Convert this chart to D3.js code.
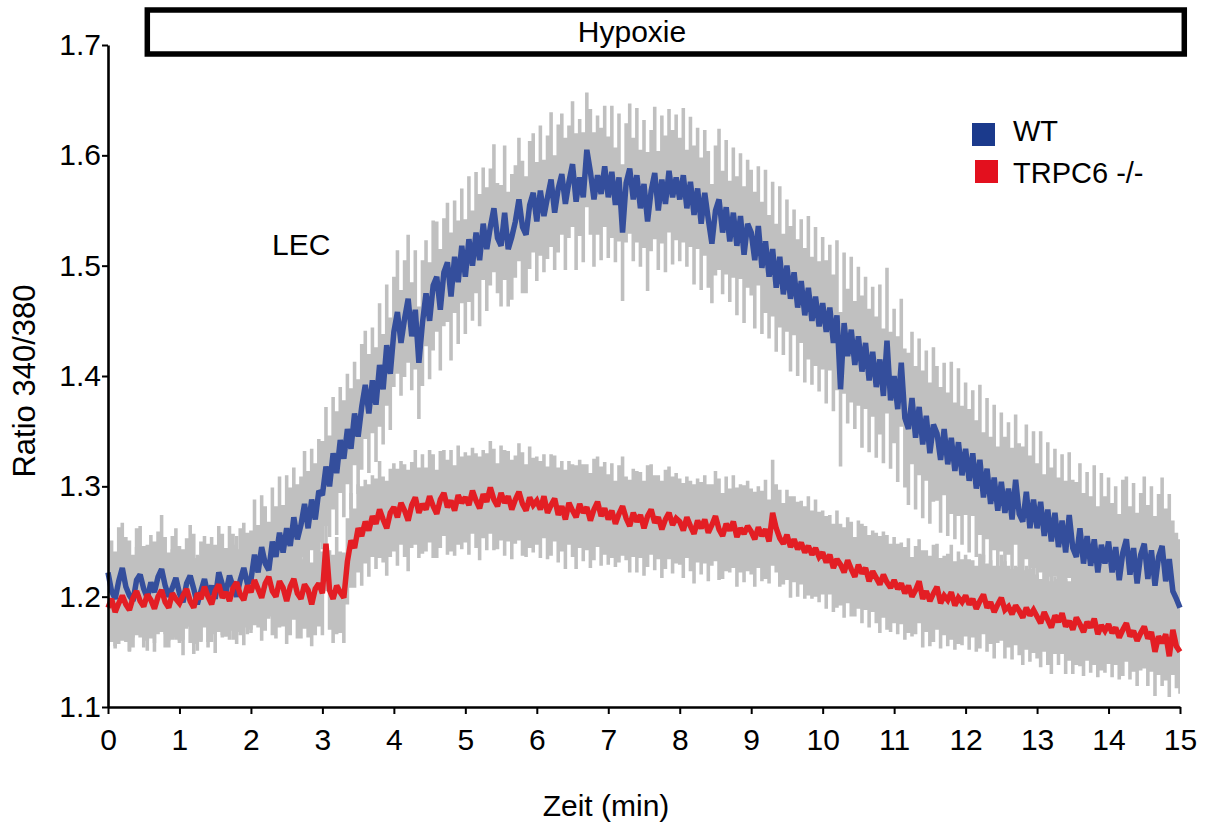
<!DOCTYPE html>
<html>
<head>
<meta charset="utf-8">
<script src="https://cdn.jsdelivr.net/npm/d3@7"></script>
<style>
  body { margin: 0; background: #fff; }
  svg { display: block; }
  text { font-family: "Liberation Sans", Arial, sans-serif; fill: #000; }
</style>
</head>
<body>
<svg id="chart" width="1207" height="830"></svg>
<script>
// ---------------- data ----------------
const xTicks = [0, 1, 2, 3, 4, 5, 6, 7, 8, 9, 10, 11, 12, 13, 14, 15];
const yTicks = [1.1, 1.2, 1.3, 1.4, 1.5, 1.6, 1.7];
const xLabel = "Zeit (min)";
const yLabel = "Ratio 340/380";
const panelLabel = "LEC";
const hypoxiaLabel = "Hypoxie";
const hypoxiaPeriod = [0.55, 15.06];   // min
const seriesNames = ["WT", "TRPC6 -/-"];
const sampleStep = 0.05;               // min between samples

// WT mean ratio, one value every 0.05 min (0 .. 15 min)
const wtMean = [
  1.222,1.205,1.198,1.214,1.226,1.209,1.201,1.196,1.215,1.220,1.207,1.199,1.213,1.204,1.218,1.225,1.210,1.200,1.208,1.217,
  1.203,1.195,1.212,1.219,1.207,1.193,1.205,1.216,1.201,1.210,1.198,1.222,1.211,1.204,1.219,1.209,1.200,1.215,1.226,1.212,
  1.215,1.238,1.222,1.245,1.230,1.224,1.250,1.236,1.258,1.240,1.262,1.246,1.272,1.252,1.265,1.284,1.262,1.288,1.270,1.296,
  1.292,1.318,1.300,1.330,1.312,1.342,1.325,1.352,1.334,1.366,1.345,1.372,1.392,1.366,1.396,1.374,1.410,1.388,1.428,1.402,
  1.440,1.458,1.430,1.452,1.470,1.436,1.460,1.412,1.448,1.475,1.450,1.482,1.490,1.460,1.494,1.503,1.472,1.508,1.485,1.518,
  1.490,1.524,1.500,1.530,1.505,1.538,1.515,1.535,1.552,1.525,1.518,1.548,1.515,1.526,1.540,1.560,1.535,1.528,1.555,1.566,
  1.540,1.568,1.545,1.562,1.578,1.548,1.570,1.583,1.556,1.576,1.592,1.558,1.580,1.562,1.605,1.585,1.560,1.582,1.565,1.590,
  1.562,1.585,1.555,1.580,1.530,1.575,1.588,1.560,1.582,1.552,1.574,1.540,1.568,1.584,1.550,1.578,1.556,1.586,1.562,1.580,
  1.560,1.582,1.552,1.576,1.546,1.570,1.538,1.566,1.542,1.520,1.550,1.560,1.530,1.553,1.522,1.548,1.518,1.545,1.510,1.538,
  1.530,1.505,1.536,1.498,1.522,1.490,1.515,1.480,1.508,1.474,1.500,1.470,1.494,1.462,1.486,1.455,1.480,1.450,1.472,1.445,
  1.466,1.440,1.462,1.430,1.455,1.388,1.448,1.418,1.442,1.410,1.436,1.404,1.430,1.396,1.422,1.390,1.415,1.382,1.432,1.378,
  1.400,1.370,1.412,1.362,1.352,1.380,1.344,1.372,1.338,1.364,1.330,1.356,1.348,1.324,1.352,1.320,1.344,1.314,1.340,1.310,
  1.334,1.305,1.330,1.298,1.324,1.290,1.316,1.284,1.308,1.278,1.304,1.276,1.298,1.270,1.306,1.275,1.268,1.295,1.262,1.288,
  1.262,1.286,1.255,1.279,1.250,1.276,1.245,1.269,1.240,1.274,1.244,1.236,1.262,1.230,1.255,1.228,1.252,1.222,1.247,1.230,
  1.250,1.222,1.245,1.215,1.240,1.252,1.220,1.244,1.212,1.238,1.248,1.216,1.242,1.210,1.236,1.246,1.214,1.234,1.205,1.198,
  1.190
];
const wtSem = [
  .040,.046,.043,.049,.041,.045,.050,.042,.047,.044,.039,.048,.043,.046,.041,.049,.044,.040,.047,.045,
  .043,.048,.041,.046,.050,.042,.045,.039,.047,.044,.049,.042,.046,.040,.045,.048,.043,.047,.041,.046,
  .045,.050,.043,.047,.052,.044,.049,.046,.051,.043,.048,.053,.045,.050,.044,.048,.052,.046,.051,.047,
  .049,.054,.046,.051,.056,.048,.053,.050,.055,.047,.052,.057,.049,.054,.048,.052,.056,.050,.055,.051,
  .050,.056,.048,.053,.058,.049,.054,.051,.057,.048,.053,.059,.050,.055,.049,.054,.058,.051,.056,.052,
  .052,.057,.050,.055,.060,.051,.056,.053,.058,.050,.055,.061,.052,.057,.051,.056,.060,.053,.058,.054,
  .054,.059,.051,.056,.061,.052,.058,.055,.060,.051,.057,.062,.053,.059,.052,.057,.061,.054,.060,.055,
  .055,.060,.052,.058,.062,.054,.059,.056,.061,.053,.058,.063,.055,.060,.054,.058,.062,.056,.061,.057,
  .056,.061,.053,.059,.063,.055,.060,.057,.062,.054,.059,.064,.056,.061,.055,.059,.063,.057,.062,.058,
  .057,.062,.054,.060,.065,.056,.061,.058,.064,.055,.060,.066,.057,.062,.056,.061,.065,.058,.063,.059,
  .060,.065,.057,.062,.068,.070,.064,.061,.066,.058,.063,.069,.060,.065,.059,.064,.068,.061,.066,.062,
  .061,.066,.058,.063,.069,.060,.065,.062,.067,.059,.064,.070,.061,.066,.060,.065,.069,.062,.067,.063,
  .060,.065,.057,.062,.068,.059,.064,.061,.066,.058,.063,.069,.060,.065,.059,.064,.068,.061,.066,.062,
  .059,.064,.056,.061,.067,.058,.063,.060,.065,.057,.062,.068,.059,.064,.058,.063,.067,.060,.065,.061,
  .058,.063,.055,.060,.066,.057,.062,.059,.064,.056,.061,.067,.058,.063,.057,.062,.066,.059,.064,.060,
  .062
];

// TRPC6 -/- mean ratio, one value every 0.05 min (0 .. 15 min)
const koMean = [
  1.190,1.198,1.186,1.194,1.201,1.193,1.188,1.199,1.205,1.196,1.191,1.202,1.197,1.189,1.200,1.206,1.195,1.190,1.203,1.198,
  1.194,1.201,1.207,1.196,1.190,1.203,1.198,1.209,1.200,1.193,1.205,1.211,1.199,1.204,1.196,1.208,1.213,1.202,1.197,1.210,
  1.204,1.215,1.207,1.199,1.212,1.218,1.205,1.200,1.214,1.208,1.196,1.209,1.216,1.203,1.198,1.211,1.206,1.193,1.207,1.212,
  1.203,1.248,1.206,1.198,1.210,1.204,1.199,1.232,1.251,1.244,1.262,1.255,1.268,1.260,1.273,1.266,1.279,1.270,1.262,1.276,
  1.281,1.272,1.285,1.278,1.269,1.283,1.290,1.276,1.284,1.279,1.291,1.282,1.275,1.288,1.294,1.281,1.287,1.278,1.292,1.285,
  1.290,1.283,1.296,1.287,1.280,1.293,1.286,1.299,1.288,1.282,1.294,1.285,1.291,1.279,1.288,1.295,1.284,1.278,1.290,1.283,
  1.287,1.279,1.291,1.276,1.283,1.289,1.274,1.282,1.270,1.285,1.278,1.272,1.284,1.276,1.281,1.269,1.279,1.286,1.273,1.280,
  1.270,1.278,1.266,1.275,1.282,1.271,1.264,1.276,1.268,1.274,1.262,1.273,1.279,1.267,1.272,1.261,1.270,1.276,1.265,1.271,
  1.268,1.260,1.272,1.264,1.257,1.269,1.262,1.270,1.258,1.265,1.273,1.261,1.255,1.266,1.260,1.268,1.254,1.262,1.257,1.264,
  1.259,1.252,1.263,1.255,1.261,1.250,1.276,1.262,1.253,1.248,1.256,1.245,1.252,1.243,1.249,1.240,1.246,1.238,1.244,1.236,
  1.240,1.231,1.238,1.226,1.234,1.229,1.222,1.233,1.225,1.218,1.229,1.221,1.226,1.214,1.223,1.217,1.211,1.220,1.213,1.208,
  1.215,1.207,1.212,1.203,1.210,1.200,1.206,1.214,1.198,1.205,1.196,1.203,1.209,1.194,1.201,1.197,1.204,1.192,1.199,1.195,
  1.201,1.193,1.198,1.189,1.196,1.202,1.190,1.195,1.186,1.193,1.199,1.188,1.191,1.184,1.192,1.187,1.181,1.190,1.183,1.188,
  1.182,1.176,1.186,1.179,1.172,1.183,1.177,1.185,1.173,1.178,1.170,1.181,1.175,1.168,1.177,1.172,1.180,1.166,1.174,1.169,
  1.175,1.167,1.172,1.163,1.170,1.176,1.164,1.169,1.160,1.167,1.173,1.162,1.168,1.150,1.164,1.158,1.166,1.146,1.170,1.155,
  1.150
];
const koSem = [
  .035,.039,.033,.037,.041,.034,.038,.036,.040,.033,.037,.042,.035,.039,.034,.038,.041,.036,.040,.037,
  .036,.040,.034,.038,.042,.035,.039,.037,.041,.034,.038,.043,.036,.040,.035,.039,.042,.037,.041,.038,
  .037,.041,.035,.039,.043,.036,.040,.038,.042,.035,.039,.044,.037,.041,.036,.040,.043,.038,.042,.039,
  .038,.043,.036,.040,.044,.037,.041,.039,.043,.036,.040,.045,.038,.042,.037,.041,.044,.039,.043,.040,
  .040,.044,.038,.042,.046,.039,.043,.041,.045,.038,.042,.047,.040,.044,.039,.043,.046,.041,.045,.042,
  .041,.045,.039,.043,.047,.040,.044,.042,.046,.039,.043,.048,.041,.045,.040,.044,.047,.042,.046,.043,
  .040,.044,.038,.042,.046,.039,.043,.041,.045,.038,.042,.047,.040,.044,.039,.043,.046,.041,.045,.042,
  .041,.043,.039,.044,.045,.038,.042,.040,.046,.039,.043,.046,.041,.043,.038,.044,.045,.042,.044,.041,
  .039,.043,.037,.041,.045,.038,.042,.040,.044,.037,.041,.046,.039,.043,.038,.042,.045,.040,.044,.041,
  .039,.043,.037,.041,.045,.038,.048,.040,.044,.037,.041,.046,.039,.043,.038,.042,.045,.040,.044,.041,
  .038,.042,.036,.040,.044,.037,.041,.039,.043,.036,.040,.045,.038,.042,.037,.041,.044,.039,.043,.040,
  .039,.041,.037,.042,.043,.036,.040,.038,.044,.037,.041,.044,.039,.041,.036,.042,.043,.040,.042,.039,
  .037,.041,.035,.039,.043,.036,.040,.038,.042,.035,.039,.044,.037,.041,.036,.040,.043,.038,.042,.039,
  .038,.040,.036,.041,.042,.035,.039,.037,.043,.036,.040,.043,.038,.040,.035,.041,.042,.039,.041,.038,
  .036,.040,.034,.038,.042,.035,.039,.037,.041,.034,.038,.043,.036,.040,.035,.039,.042,.037,.041,.038,
  .038
];

const lineColors = ["#344e9c", "#e31e24"];
const legendColors = ["#1b3a8c", "#e3101e"];
const bandColor = "#c0c0c0";

// ---------------- chart ----------------
const svg = d3.select("#chart");
const x = d3.scaleLinear().domain([0, 15]).range([108, 1180]);
const y = d3.scaleLinear().domain([1.1, 1.7]).range([707, 45]);

function toPoints(mean, sem) {
  return mean.map((m, i) => ({ t: i * sampleStep, m, s: sem[i] }));
}
const series = [toPoints(wtMean, wtSem), toPoints(koMean, koSem)];

const area = d3.area()
  .x(d => x(d.t))
  .y0(d => y(d.m - d.s))
  .y1(d => y(d.m + d.s))
  .curve(d3.curveStep);
const line = d3.line()
  .x(d => x(d.t))
  .y(d => y(d.m));

// bands
series.forEach(s => {
  svg.append("path").attr("d", area(s)).attr("fill", bandColor).attr("stroke", "none");
});
// lines
series.forEach((s, i) => {
  svg.append("path").attr("d", line(s))
    .attr("fill", "none")
    .attr("stroke", lineColors[i])
    .attr("stroke-width", 5.5)
    .attr("stroke-linejoin", "miter")
    .attr("stroke-miterlimit", 2);
});

// axes
const yAxis = svg.append("g").attr("transform", `translate(${x(0)},0)`)
  .call(d3.axisLeft(y).tickValues(yTicks).tickSize(6).tickSizeOuter(0).tickPadding(1)
        .tickFormat(d3.format(".1f")));
const xAxis = svg.append("g").attr("transform", `translate(0,${y(1.1)})`)
  .call(d3.axisBottom(x).tickValues(xTicks).tickSize(7).tickSizeOuter(0).tickPadding(15)
        .tickFormat(d3.format("d")));
[yAxis, xAxis].forEach(g => {
  g.select(".domain").attr("stroke", "#000").attr("stroke-width", 2.6);
  g.selectAll(".tick line").attr("stroke", "#000").attr("stroke-width", 2);
  g.selectAll(".tick text").attr("font-size", 30).attr("font-family", "Liberation Sans, Arial, sans-serif").attr("fill", "#000");
});

// axis titles
svg.append("text").attr("x", 606).attr("y", 816).attr("text-anchor", "middle")
  .attr("font-size", 30).text(xLabel);
svg.append("text").attr("transform", "translate(35,381) rotate(-90)").attr("text-anchor", "middle")
  .attr("font-size", 31).text(yLabel);

// hypoxia bar
svg.append("rect")
  .attr("x", x(hypoxiaPeriod[0])).attr("y", 10)
  .attr("width", x(hypoxiaPeriod[1]) - x(hypoxiaPeriod[0])).attr("height", 44)
  .attr("fill", "none").attr("stroke", "#000").attr("stroke-width", 5.5);
svg.append("text").attr("x", 632).attr("y", 42).attr("text-anchor", "middle")
  .attr("font-size", 30).text(hypoxiaLabel);

// panel label
svg.append("text").attr("x", 272).attr("y", 255).attr("font-size", 30).text(panelLabel);

// legend
const legendRows = [{ sx: 972, sy: 123, ty: 141 }, { sx: 975, sy: 160, ty: 183 }];
seriesNames.forEach((name, i) => {
  const r = legendRows[i];
  svg.append("rect").attr("x", r.sx).attr("y", r.sy).attr("width", 23).attr("height", 23)
    .attr("fill", legendColors[i]);
  svg.append("text").attr("x", 1013).attr("y", r.ty).attr("font-size", 29).text(name);
});
</script>
</body>
</html>
